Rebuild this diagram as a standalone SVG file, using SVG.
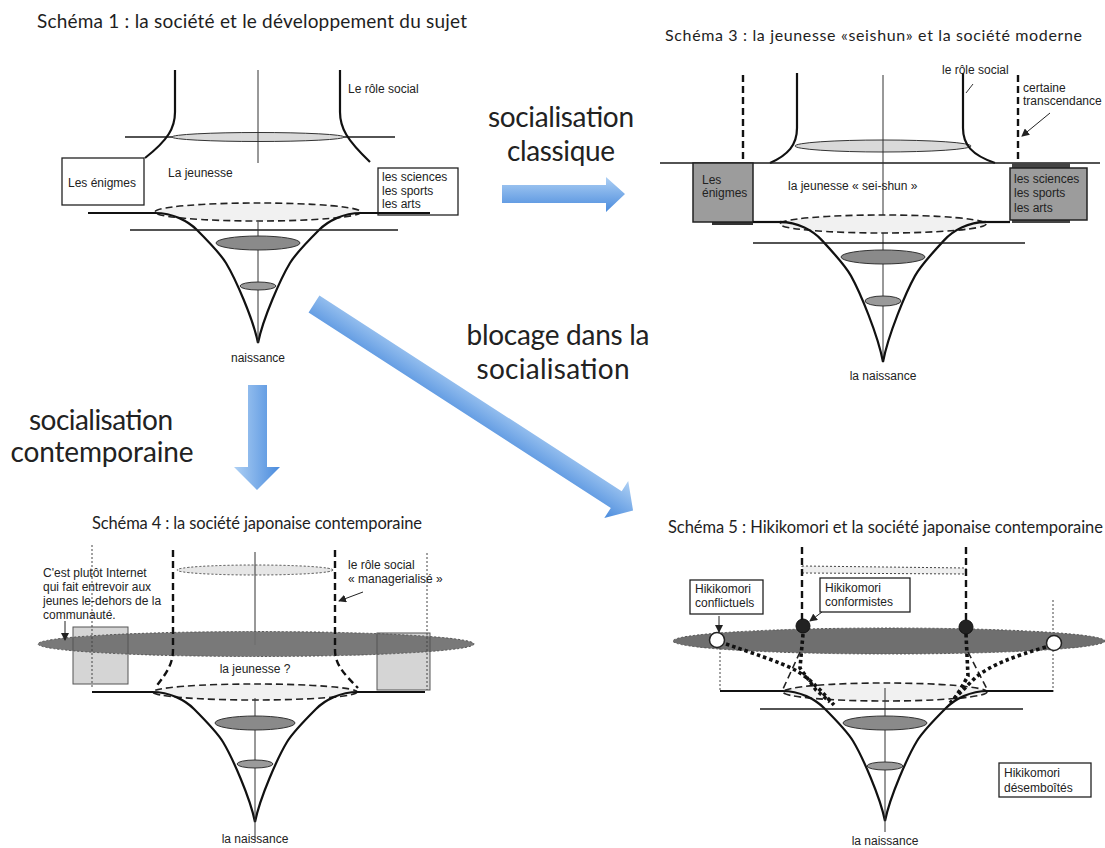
<svg xmlns="http://www.w3.org/2000/svg" width="1105" height="848" viewBox="0 0 1105 848">
<style>
.ln{stroke:#1a1a1a;stroke-width:1.3;fill:none}
.ax{stroke:#333;stroke-width:1;fill:none}
.fun{stroke:#111;stroke-width:2.2;fill:none}
.dsh{stroke:#222;stroke-width:1.6;stroke-dasharray:7 4}
.tdash{stroke:#111;stroke-width:2.4;stroke-dasharray:7 4;fill:none}
.dot{stroke:#444;stroke-width:1;stroke-dasharray:2 2;fill:none}
.bigdot{stroke:#111;stroke-width:3.6;stroke-dasharray:3.5 3;fill:none}
.ell{stroke:#333;stroke-width:1}
.box{fill:#fff;stroke:#222;stroke-width:1.3}
.lbl{font-family:"Liberation Sans",Arial,sans-serif;font-size:12px;fill:#222}
.ttl{font-family:Lato,"Open Sans",sans-serif;fill:#1e1e1e}
.big{font-family:Lato,"Open Sans",sans-serif;font-size:28px;fill:#222;text-anchor:middle}
.mid{text-anchor:middle}
.arr{stroke:#222;stroke-width:1;fill:none;marker-end:url(#ah)}
</style>
<defs>
<marker id="ah" markerWidth="8" markerHeight="8" refX="7" refY="4" orient="auto" markerUnits="userSpaceOnUse">
<path d="M0,0 L8,4 L0,8 Z" fill="#222"/>
</marker>
<path id="funnel" d="M-103,0 C-85,0 -70,8 -61,17 C-50,28 -38,40 -32,50 C-23,65 -5,105 0,130 C5,105 23,65 32,50 C38,40 50,28 61,17 C70,8 85,0 103,0"/>
<linearGradient id="gv" x1="0" y1="0" x2="0" y2="1">
<stop offset="0" stop-color="#aed0f4"/><stop offset="1" stop-color="#4a8bdd"/>
</linearGradient>
<linearGradient id="gh" x1="0" y1="0" x2="1" y2="0">
<stop offset="0" stop-color="#aed0f4"/><stop offset="1" stop-color="#4a8bdd"/>
</linearGradient>
</defs>

<g id="schema1">
<text class="ttl" x="37" y="28" font-size="19" textLength="430">Schéma 1 : la société et le développement du sujet</text>
<line class="ln" x1="125" y1="137" x2="395" y2="137"/>
<ellipse class="ell" cx="258" cy="137" rx="86" ry="4.5" fill="#d9d9d9"/>
<path class="fun" d="M175,70 L175,112 C175,128 168,140 145,158"/>
<path class="fun" d="M340,70 L340,112 C340,128 347,140 370,162"/>
<line class="ax" x1="258" y1="70" x2="258" y2="163"/>
<rect class="box" x="62" y="158" width="82" height="47"/>
<text class="lbl" x="68" y="187">Les énigmes</text>
<text class="lbl" x="168" y="177" font-size="13">La jeunesse</text>
<text class="lbl" x="348" y="93" font-size="13">Le rôle social</text>
<rect class="box" x="378" y="168" width="80" height="47"/>
<text class="lbl" x="382" y="181">les sciences</text>
<text class="lbl" x="382" y="195">les sports</text>
<text class="lbl" x="382" y="208">les arts</text>
<ellipse class="dsh" cx="258" cy="212" rx="103" ry="9" fill="#f1f1f1"/>
<line class="fun" x1="88" y1="213" x2="155" y2="213"/>
<line class="fun" x1="361" y1="213" x2="430" y2="213"/>
<use href="#funnel" class="fun" transform="translate(258,213)"/>
<line class="ln" x1="130" y1="230" x2="398" y2="230"/>
<line class="ax" x1="258" y1="222" x2="258" y2="343"/>
<ellipse class="ell" cx="258" cy="243" rx="42" ry="7" fill="#8a8a8a"/>
<ellipse class="ell" cx="258" cy="286" rx="18" ry="4" fill="#9a9a9a"/>
<text class="lbl mid" x="258" y="362">naissance</text>
</g>

<g id="schema3">
<text class="ttl" x="665" y="41" font-size="16" textLength="417">Schéma 3 : la jeunesse «seishun» et la société moderne</text>
<line class="tdash" x1="743" y1="75" x2="743" y2="163"/>
<line class="tdash" x1="1018" y1="75" x2="1018" y2="163"/>
<ellipse class="ell" cx="883" cy="146" rx="88" ry="6" fill="#d9d9d9"/>
<path class="fun" d="M797,73 L797,128 C797,145 788,155 770,163"/>
<path class="fun" d="M963,73 L963,128 C963,145 972,155 995,163"/>
<line class="ln" x1="660" y1="163" x2="1100" y2="163"/>
<line class="ax" x1="883" y1="75" x2="883" y2="362"/>
<rect x="712" y="221" width="41" height="4" fill="#333"/>
<rect x="693" y="163" width="60" height="59" fill="#9c9c9c" stroke="#222" stroke-width="1.5"/>
<rect x="1012" y="163" width="58" height="5" fill="#444"/>
<rect x="1012" y="219" width="58" height="4" fill="#444"/>
<rect x="1010" y="168" width="77" height="52" fill="#9c9c9c" stroke="#222" stroke-width="1.5"/>
<text class="lbl" x="702" y="184" font-size="11.5">Les</text>
<text class="lbl" x="702" y="197" font-size="11.5">énigmes</text>
<text class="lbl" x="1014" y="183">les sciences</text>
<text class="lbl" x="1014" y="197">les sports</text>
<text class="lbl" x="1014" y="212">les arts</text>
<text class="lbl" x="788" y="190" font-size="13">la jeunesse « sei-shun »</text>
<text class="lbl" x="942" y="74">le rôle social</text>
<line class="ax" x1="973" y1="84" x2="966" y2="93"/>
<text class="lbl" x="1023" y="92" font-size="11.5">certaine</text>
<text class="lbl" x="1023" y="105" font-size="11.5">transcendance</text>
<line class="arr" x1="1050" y1="113" x2="1022" y2="136"/>
<ellipse class="dsh" cx="883" cy="224" rx="103" ry="9" fill="#f1f1f1"/>
<line class="fun" x1="753" y1="222" x2="780" y2="222"/>
<line class="fun" x1="986" y1="222" x2="1010" y2="222"/>
<use href="#funnel" class="fun" transform="translate(883,222) scale(1,1.077)"/>
<line class="ln" x1="753" y1="243" x2="1025" y2="243"/>
<ellipse class="ell" cx="883" cy="257" rx="42" ry="7" fill="#8a8a8a"/>
<ellipse class="ell" cx="883" cy="301" rx="18" ry="5" fill="#9a9a9a"/>
<text class="lbl mid" x="883" y="380">la naissance</text>
</g>

<g id="schema4">
<text class="ttl" x="92" y="529" font-size="16.5" textLength="330">Schéma 4 : la société japonaise contemporaine</text>
<rect x="73" y="627" width="55" height="57" fill="#d5d5d5"/>
<rect x="377" y="633" width="53" height="57" fill="#d5d5d5"/>
<ellipse cx="255" cy="570" rx="78" ry="5" fill="#e6e6e6" stroke="#444" stroke-width="1" stroke-dasharray="2 2"/>
<line class="ax" x1="255" y1="552" x2="255" y2="645"/>
<ellipse cx="256" cy="644" rx="218" ry="12.5" fill="#6f6f6f" fill-opacity="0.93" stroke="#555" stroke-width="1" stroke-dasharray="2 2"/>
<rect x="73" y="627" width="55" height="57" fill="none" stroke="#555" stroke-width="1"/>
<rect x="377" y="633" width="53" height="57" fill="none" stroke="#555" stroke-width="1"/>
<line class="dot" x1="92" y1="545" x2="92" y2="687"/>
<line class="dot" x1="427" y1="553" x2="427" y2="690"/>
<path class="tdash" d="M173,550 L173,650 C173,665 165,675 155,688"/>
<path class="tdash" d="M335,550 L335,650 C335,665 345,675 358,688"/>
<text class="lbl" x="43" y="577">C'est plutôt Internet</text>
<text class="lbl" x="43" y="591">qui fait entrevoir aux</text>
<text class="lbl" x="43" y="605">jeunes le-dehors de la</text>
<text class="lbl" x="43" y="619">communauté.</text>
<line class="arr" x1="65" y1="621" x2="65" y2="640"/>
<text class="lbl" x="348" y="569">le rôle social</text>
<text class="lbl" x="348" y="583">« managerialisé »</text>
<line class="arr" x1="363" y1="592" x2="339" y2="601"/>
<text class="lbl mid" x="255" y="673">la jeunesse ?</text>
<ellipse class="dsh" cx="255" cy="692" rx="102" ry="8" fill="#f1f1f1"/>
<line class="fun" x1="92" y1="692" x2="152" y2="692"/>
<line class="fun" x1="358" y1="692" x2="425" y2="692"/>
<use href="#funnel" class="fun" transform="translate(255,692)"/>
<line class="ax" x1="255" y1="698" x2="255" y2="840"/>
<ellipse class="ell" cx="255" cy="723" rx="40" ry="7" fill="#8a8a8a"/>
<ellipse class="ell" cx="255" cy="764" rx="18" ry="4" fill="#9a9a9a"/>
<text class="lbl mid" x="255" y="843">la naissance</text>
</g>

<g id="schema5">
<text class="ttl" x="668" y="533" font-size="16.5" textLength="435">Schéma 5 : Hikikomori et la société japonaise contemporaine</text>
<path d="M802,566 L966,568 L966,574 L802,573 Z" fill="#eee" stroke="#444" stroke-width="1" stroke-dasharray="2 2"/>
<line class="tdash" x1="802" y1="547" x2="802" y2="626"/>
<line class="tdash" x1="966" y1="547" x2="966" y2="627"/>
<line class="dot" x1="1053" y1="600" x2="1053" y2="636"/>
<ellipse cx="889" cy="641" rx="216" ry="13" fill="#6f6f6f" stroke="#555" stroke-width="1" stroke-dasharray="2 2"/>
<line class="dot" x1="720" y1="648" x2="720" y2="690"/>
<line class="dot" x1="1053" y1="650" x2="1053" y2="693"/>
<rect class="box" x="690" y="580" width="73" height="34"/>
<text class="lbl" x="695" y="593" font-size="11.5">Hikikomori</text>
<text class="lbl" x="695" y="607" font-size="11.5">conflictuels</text>
<line class="arr" x1="719" y1="616" x2="719" y2="632"/>
<rect class="box" x="820" y="578" width="90" height="34"/>
<text class="lbl" x="825" y="592" font-size="11.5">Hikikomori</text>
<text class="lbl" x="825" y="606" font-size="11.5">conformistes</text>
<line class="arr" x1="822" y1="612" x2="810" y2="621"/>
<rect class="box" x="999" y="763" width="92" height="34"/>
<text class="lbl" x="1004" y="777" font-size="11.5">Hikikomori</text>
<text class="lbl" x="1004" y="792" font-size="11.5">désemboîtés</text>
<ellipse class="dsh" cx="885" cy="692" rx="102" ry="9" fill="#f1f1f1"/>
<line class="fun" x1="720" y1="691" x2="782" y2="691"/>
<line class="fun" x1="988" y1="691" x2="1053" y2="691"/>
<use href="#funnel" class="fun" transform="translate(885,691)"/>
<line class="ln" x1="760" y1="709" x2="1023" y2="709"/>
<line class="ax" x1="885" y1="688" x2="885" y2="832"/>
<ellipse class="ell" cx="885" cy="723" rx="42" ry="7" fill="#8a8a8a"/>
<ellipse class="ell" cx="885" cy="766" rx="18" ry="4" fill="#9a9a9a"/>
<line class="dsh" x1="800" y1="652" x2="783" y2="689"/>
<line class="dsh" x1="968" y1="652" x2="988" y2="691"/>
<path class="bigdot" d="M726,644 C752,653 780,662 795,670 S822,692 834,705"/>
<path class="bigdot" d="M803,634 L800,668 L816,690 L830,702"/>
<path class="bigdot" d="M1046,647 C1015,656 990,665 975,678 L950,703"/>
<path class="bigdot" d="M966,634 L968,676 L960,690 L952,702"/>
<circle cx="803" cy="626" r="7" fill="#222" stroke="#111" stroke-width="1"/>
<circle cx="966" cy="627" r="7" fill="#222" stroke="#111" stroke-width="1"/>
<circle cx="717" cy="640" r="7.5" fill="#fff" stroke="#222" stroke-width="1.5"/>
<circle cx="1054" cy="643" r="7.5" fill="#fff" stroke="#222" stroke-width="1.5"/>
<text class="lbl mid" x="885" y="845">la naissance</text>
</g>

<g id="connectors">
<polygon points="502,185 606,185 606,177 625,194 606,212 606,203 502,203" fill="url(#gv)"/>
<polygon points="248,385 267,385 267,467 280,467 257,490 234,467 248,467" fill="url(#gh)"/>
<g transform="translate(314,304) rotate(32.9)">
<polygon points="0,-10 360,-10 360,-22 380,0 360,22 360,10 0,10" fill="url(#gv)"/>
</g>
<text class="big" x="561" y="127" textLength="146">socialisation</text>
<text class="big" x="561" y="161" textLength="108">classique</text>
<text class="big" x="558" y="345" textLength="183">blocage dans la</text>
<text class="big" x="553" y="379" textLength="153">socialisation</text>
<text class="big" x="101" y="430" textLength="144">socialisation</text>
<text class="big" x="102" y="462" textLength="183">contemporaine</text>
</g>
</svg>
